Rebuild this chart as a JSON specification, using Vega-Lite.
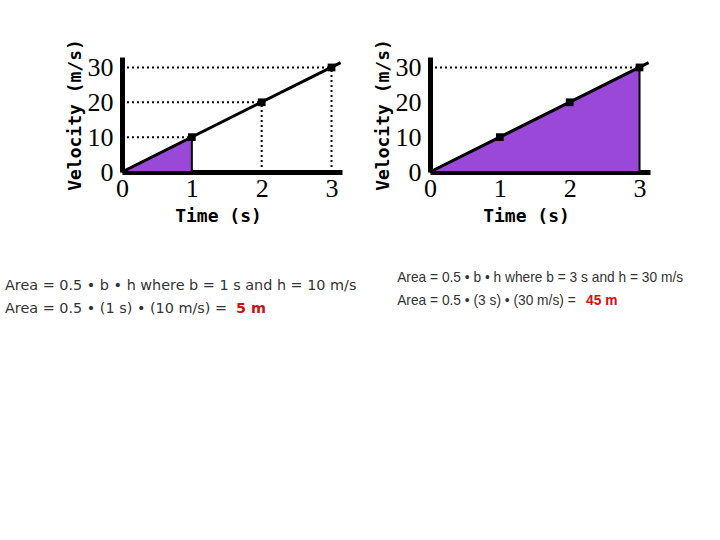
{
  "$schema": "https://vega.github.io/schema/vega-lite/v6.json",
  "background": "white",
  "padding": {"left": 5, "top": 38, "right": 5, "bottom": 5},
  "config": {
    "view": {"stroke": null},
    "concat": {"spacing": 88},
    "axis": {
      "grid": false,
      "ticks": false,
      "domainColor": "black",
      "domainWidth": 5,
      "labelFont": "Liberation Serif",
      "labelFontSize": 26,
      "labelColor": "black",
      "labelOverlap": false,
      "labelFlush": false,
      "titleFont": "DejaVu Sans Mono",
      "titleFontWeight": "bold",
      "titleFontSize": 18,
      "titleColor": "black"
    },
    "axisY": {"labelOverlap": false}
  },
  "bounds": "flush",
  "hconcat": [
    {
      "width": 220,
      "height": 115,
      "encoding": {
        "x": {"field": "t", "type": "quantitative", "scale": {"domain": [0, 3.15], "nice": false},
          "axis": {"values": [0, 1, 2, 3], "format": "d", "title": "Time (s)", "labelPadding": 3, "titlePadding": 6, "titleX": 96, "labelFlush": false}},
        "y": {"field": "v", "type": "quantitative", "scale": {"domain": [0, 33], "nice": false}, "stack": null,
          "axis": {"values": [0, 10, 20, 30], "format": "d", "title": "Velocity (m/s)", "labelPadding": 9, "titlePadding": 3, "labelFlush": false}}
      },
      "layer": [
        {
          "data": {"values": [{"t": 0, "v": 0}, {"t": 1, "v": 10}]},
          "mark": {"type": "area", "color": "#9a48d8", "stroke": "black", "strokeWidth": 2, "opacity": 1}
        },
        {
          "data": {"values": [
            {"t": 0, "t2": 1, "v": 10, "v2": 10},
            {"t": 0, "t2": 2, "v": 20, "v2": 20},
            {"t": 0, "t2": 3, "v": 30, "v2": 30},
            {"t": 2, "t2": 2, "v": 0, "v2": 20},
            {"t": 3, "t2": 3, "v": 0, "v2": 30}
          ]},
          "mark": {"type": "rule", "color": "black", "strokeWidth": 2, "strokeDash": [2, 3]},
          "encoding": {
            "x2": {"field": "t2"},
            "y2": {"field": "v2"}
          }
        },
        {
          "data": {"values": [{"t": 0, "v": 0}, {"t": 3.13, "v": 31.4}]},
          "mark": {"type": "line", "color": "black", "strokeWidth": 3}
        },
        {
          "data": {"values": [{"t": 1, "v": 10}, {"t": 2, "v": 20}, {"t": 3, "v": 30}]},
          "mark": {"type": "point", "shape": "square", "filled": true, "color": "black", "size": 60, "opacity": 1}
        },
        {
          "data": {"values": [
            {"t": -1.675, "v": -32.6, "txt": "Area = 0.5 • b • h where b = 1 s and h = 10 m/s"},
            {"t": -1.675, "v": -39.3, "txt": "Area = 0.5 • (1 s) • (10 m/s) = "}
          ]},
          "mark": {"type": "text", "align": "left", "baseline": "middle", "font": "DejaVu Sans", "fontSize": 14.4, "color": "#333333"},
          "encoding": {"text": {"field": "txt"}}
        },
        {
          "data": {"values": [{"t": 1.632, "v": -39.3, "txt": "5 m"}]},
          "mark": {"type": "text", "align": "left", "baseline": "middle", "font": "DejaVu Sans", "fontSize": 14.4, "fontWeight": "bold", "color": "#d01010"},
          "encoding": {"text": {"field": "txt"}}
        }
      ]
    },
    {
      "width": 220,
      "height": 115,
      "encoding": {
        "x": {"field": "t", "type": "quantitative", "scale": {"domain": [0, 3.15], "nice": false},
          "axis": {"values": [0, 1, 2, 3], "format": "d", "title": "Time (s)", "labelPadding": 3, "titlePadding": 6, "titleX": 96, "labelFlush": false}},
        "y": {"field": "v", "type": "quantitative", "scale": {"domain": [0, 33], "nice": false}, "stack": null,
          "axis": {"values": [0, 10, 20, 30], "format": "d", "title": "Velocity (m/s)", "labelPadding": 9, "titlePadding": 3, "labelFlush": false}}
      },
      "layer": [
        {
          "data": {"values": [{"t": 0, "v": 0}, {"t": 3, "v": 30}]},
          "mark": {"type": "area", "color": "#9a48d8", "stroke": "black", "strokeWidth": 2, "opacity": 1}
        },
        {
          "data": {"values": [
            {"t": 0, "t2": 3, "v": 30, "v2": 30}
          ]},
          "mark": {"type": "rule", "color": "black", "strokeWidth": 2, "strokeDash": [2, 3]},
          "encoding": {
            "x2": {"field": "t2"},
            "y2": {"field": "v2"}
          }
        },
        {
          "data": {"values": [{"t": 0, "v": 0}, {"t": 3.13, "v": 31.4}]},
          "mark": {"type": "line", "color": "black", "strokeWidth": 3}
        },
        {
          "data": {"values": [{"t": 1, "v": 10}, {"t": 2, "v": 20}, {"t": 3, "v": 30}]},
          "mark": {"type": "point", "shape": "square", "filled": true, "color": "black", "size": 60, "opacity": 1}
        },
        {
          "data": {"values": [
            {"t": -0.47, "v": -30.5, "txt": "Area = 0.5 • b • h where b = 3 s and h = 30 m/s"},
            {"t": -0.47, "v": -37.1, "txt": "Area = 0.5 • (3 s) • (30 m/s) = "}
          ]},
          "mark": {"type": "text", "align": "left", "baseline": "middle", "font": "Liberation Sans", "fontSize": 13.75, "color": "#333333"},
          "encoding": {"text": {"field": "txt"}}
        },
        {
          "data": {"values": [{"t": 2.234, "v": -37.1, "txt": "45 m"}]},
          "mark": {"type": "text", "align": "left", "baseline": "middle", "font": "Liberation Sans", "fontSize": 13.75, "fontWeight": "bold", "color": "#d01010"},
          "encoding": {"text": {"field": "txt"}}
        }
      ]
    }
  ]
}
